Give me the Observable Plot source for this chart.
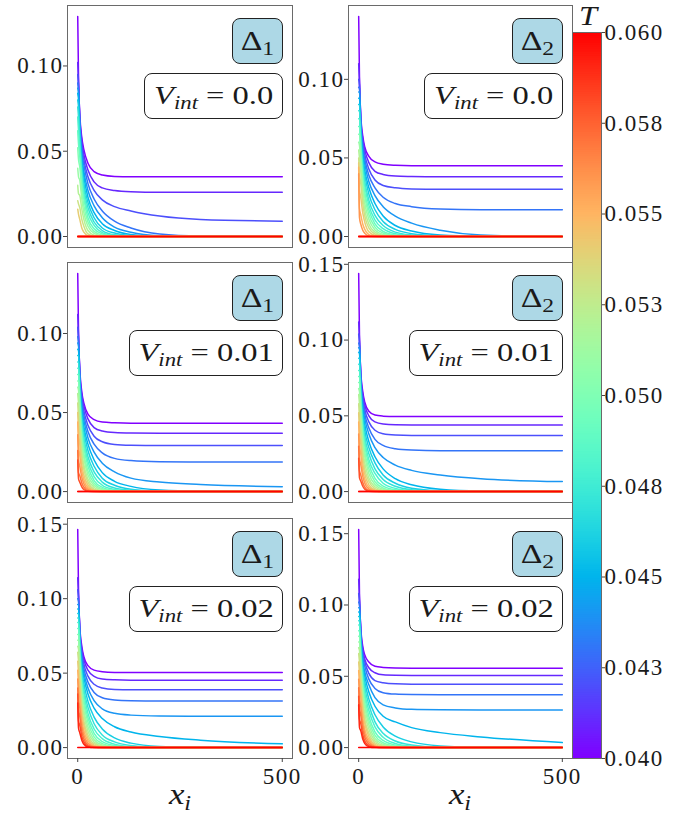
<!DOCTYPE html>
<html><head><meta charset="utf-8">
<script src="https://cdn.jsdelivr.net/npm/d3@7"></script>
<script src="https://cdn.jsdelivr.net/npm/@observablehq/plot@0.6"></script>
<style>
body{margin:0;background:#fff;}
#fig{position:relative;width:689px;height:819px;overflow:hidden;font-family:"Liberation Serif",serif;color:#1a1a1a;}
.box{position:absolute;border:1.3px solid #222;border-radius:8px;box-sizing:border-box;display:flex;align-items:center;justify-content:center;white-space:nowrap;background:#fff;}
.dbox{background:#add8e6;font-size:27px;}
.vbox{font-size:26px;}
.inner{display:inline-block;transform:scaleX(1.25);}
.it{font-style:italic;}
.sub{font-size:0.7em;position:relative;top:0.3em;}
.lbl{position:absolute;white-space:nowrap;transform:translateX(-50%) scaleX(1.2);line-height:1.15;}
</style>
</head><body>
<div id="fig"></div>
<script>
// ---- data ----
const xs = [0, 2, 5, 10, 15, 25, 40, 60, 90, 130, 200, 300, 500];
const temps = [0.040,0.041,0.042,0.043,0.044,0.045,0.046,0.047,0.048,0.049,0.050,0.051,0.052,0.053,0.054,0.055,0.056,0.057,0.058,0.059,0.060];
const yTickValues = [0, 0.05, 0.10, 0.15];
const xTickValues = [0, 500];
const cbTicks = [0.040, 0.0425, 0.045, 0.0475, 0.050, 0.0525, 0.055, 0.0575, 0.060];
const cbLabels = ["0.040","0.043","0.045","0.048","0.050","0.053","0.055","0.058","0.060"];
const deltaNames = ["1", "2"];
const vintLabels = ["0.0", "0.01", "0.02"];

// Δ1, V_int = 0.0
const delta1V0 = [
 [.129,.092,.072,.058,.051,.043,.038,.036,.0352,.035,.035,.035,.035],
 [.102,.090,.070,.056,.048,.039,.032,.0285,.027,.0263,.026,.026,.026],
 [.095,.088,.068,.053,.045,.035,.027,.0215,.0175,.015,.012,.010,.009],
 [.090,.086,.066,.050,.042,.031,.022,.015,.009,.005,.0015,.0003,0],
 [.087,.084,.064,.047,.038,.027,.018,.011,.0055,.0025,.0005,0,0],
 [.084,.080,.062,.044,.035,.023,.014,.0075,.0035,.0012,.0002,0,0],
 [.080,.076,.059,.041,.031,.020,.011,.005,.002,.0006,0,0,0],
 [.076,.070,.056,.038,.028,.017,.0085,.0035,.001,.0003,0,0,0],
 [.070,.062,.052,.035,.025,.014,.0065,.0023,.0006,.0001,0,0,0],
 [.062,.054,.047,.031,.022,.011,.0045,.0015,.0003,0,0,0,0],
 [.052,.045,.041,.027,.018,.0085,.003,.0008,.0001,0,0,0,0],
 [.040,.035,.033,.022,.014,.006,.0018,.0004,0,0,0,0,0],
 [.030,.025,.024,.016,.010,.0035,.0008,.0001,0,0,0,0,0],
 [.021,.019,.017,.010,.006,.0015,.0003,0,0,0,0,0,0],
 [.016,.013,.010,.005,.0025,.0005,0,0,0,0,0,0,0],
 [0,0,0,0,0,0,0,0,0,0,0,0,0],
 [0,0,0,0,0,0,0,0,0,0,0,0,0],
 [0,0,0,0,0,0,0,0,0,0,0,0,0],
 [0,0,0,0,0,0,0,0,0,0,0,0,0],
 [0,0,0,0,0,0,0,0,0,0,0,0,0],
 [0,0,0,0,0,0,0,0,0,0,0,0,0]
];
// Δ2, V_int = 0.0
const delta2V0 = [
 [.140,.100,.078,.064,.057,.051,.0475,.046,.0453,.045,.045,.045,.045],
 [.110,.098,.076,.062,.055,.047,.0415,.0395,.0385,.0382,.038,.038,.038],
 [.100,.096,.074,.060,.052,.043,.036,.0325,.031,.0303,.030,.030,.030],
 [.095,.094,.072,.057,.049,.039,.031,.025,.021,.019,.0175,.017,.017],
 [.092,.092,.070,.054,.046,.035,.026,.019,.013,.0085,.004,.001,0],
 [.088,.088,.068,.051,.042,.031,.021,.013,.007,.0035,.001,.0002,0],
 [.084,.084,.065,.048,.039,.027,.017,.0095,.0045,.0018,.0004,0,0],
 [.080,.080,.062,.045,.035,.023,.0135,.007,.0028,.001,.0001,0,0],
 [.075,.075,.059,.041,.032,.020,.0105,.005,.0017,.0005,0,0,0],
 [.070,.070,.056,.038,.028,.017,.008,.0033,.001,.0002,0,0,0],
 [.065,.065,.052,.034,.025,.014,.006,.0022,.0005,0,0,0,0],
 [.060,.058,.048,.030,.021,.011,.0042,.0013,.0002,0,0,0,0],
 [.055,.050,.042,.026,.017,.008,.0028,.0007,.0001,0,0,0,0],
 [.050,.040,.034,.021,.013,.0055,.0016,.0003,0,0,0,0,0],
 [.047,.030,.025,.015,.009,.003,.0007,.0001,0,0,0,0,0],
 [.044,.018,.014,.008,.0045,.0012,.0002,0,0,0,0,0,0],
 [.040,.012,.008,.004,.002,.0004,0,0,0,0,0,0,0],
 [0,0,0,0,0,0,0,0,0,0,0,0,0],
 [0,0,0,0,0,0,0,0,0,0,0,0,0],
 [0,0,0,0,0,0,0,0,0,0,0,0,0],
 [0,0,0,0,0,0,0,0,0,0,0,0,0]
];
// Δ1, V_int = 0.01
const delta1V1 = [
 [.138,.100,.078,.063,.056,.049,.0455,.044,.0435,.0432,.0432,.0432,.0432],
 [.112,.098,.076,.061,.054,.046,.0405,.0383,.0373,.037,.0369,.0369,.0369],
 [.104,.096,.074,.059,.051,.042,.035,.0315,.0298,.0293,.0291,.0291,.0291],
 [.098,.094,.072,.056,.048,.038,.030,.0245,.021,.0196,.0189,.0187,.0187],
 [.094,.092,.070,.053,.045,.034,.025,.018,.0125,.0085,.006,.0045,.0031],
 [.090,.089,.068,.050,.041,.030,.020,.012,.0065,.0033,.001,.0002,0],
 [.086,.086,.065,.047,.038,.026,.016,.0085,.004,.0015,.0003,0,0],
 [.082,.082,.062,.044,.034,.022,.0125,.006,.0023,.0008,.0001,0,0],
 [.078,.078,.059,.041,.031,.019,.0095,.004,.0014,.0004,0,0,0],
 [.074,.074,.056,.037,.028,.016,.007,.0027,.0008,.0002,0,0,0],
 [.070,.070,.053,.034,.024,.013,.0053,.0018,.0004,0,0,0,0],
 [.066,.064,.049,.030,.021,.0105,.0038,.0011,.0002,0,0,0,0],
 [.062,.056,.044,.026,.017,.008,.0026,.0006,.0001,0,0,0,0],
 [.056,.047,.037,.022,.014,.006,.0016,.0003,0,0,0,0,0],
 [.050,.038,.030,.017,.0105,.004,.0009,.0001,0,0,0,0,0],
 [.044,.029,.023,.013,.0075,.0025,.0005,0,0,0,0,0,0],
 [.036,.020,.016,.009,.005,.0014,.0002,0,0,0,0,0,0],
 [.026,.012,.010,.0055,.0028,.0006,0,0,0,0,0,0,0],
 [.020,.008,.006,.003,.0013,.0002,0,0,0,0,0,0,0],
 [0,0,0,0,0,0,0,0,0,0,0,0,0],
 [0,0,0,0,0,0,0,0,0,0,0,0,0]
];
// Δ2, V_int = 0.01
const delta2V1 = [
 [.144,.102,.080,.066,.059,.053,.0505,.0498,.0495,.0495,.0495,.0495,.0495],
 [.112,.100,.078,.064,.057,.050,.046,.0446,.0441,.044,.044,.044,.044],
 [.104,.098,.076,.062,.054,.046,.0405,.0382,.0373,.037,.037,.037,.037],
 [.098,.096,.074,.059,.051,.042,.0345,.0305,.0283,.0274,.027,.027,.027],
 [.095,.094,.072,.056,.048,.038,.029,.0225,.0175,.014,.011,.0085,.0066],
 [.092,.091,.070,.053,.044,.033,.023,.015,.0085,.0045,.0015,.0003,0],
 [.088,.088,.067,.050,.040,.029,.019,.011,.0055,.0022,.0005,0,0],
 [.084,.084,.064,.046,.036,.025,.015,.008,.0035,.0012,.0002,0,0],
 [.080,.080,.061,.043,.033,.021,.012,.0055,.0021,.0006,0,0,0],
 [.076,.076,.058,.040,.030,.018,.0088,.0036,.0012,.0003,0,0,0],
 [.072,.072,.055,.036,.026,.015,.0065,.0024,.0006,.0001,0,0,0],
 [.068,.066,.051,.032,.023,.012,.0047,.0015,.0003,0,0,0,0],
 [.064,.058,.046,.028,.019,.009,.0032,.0008,.0001,0,0,0,0],
 [.058,.049,.039,.024,.015,.0068,.002,.0004,0,0,0,0,0],
 [.052,.040,.032,.019,.0115,.0045,.0011,.0001,0,0,0,0,0],
 [.046,.031,.025,.014,.0082,.0028,.0006,0,0,0,0,0,0],
 [.038,.022,.018,.010,.0055,.0016,.0003,0,0,0,0,0,0],
 [.030,.014,.011,.006,.003,.0007,0,0,0,0,0,0,0],
 [.022,.009,.007,.0035,.0015,.0002,0,0,0,0,0,0,0],
 [0,0,0,0,0,0,0,0,0,0,0,0,0],
 [0,0,0,0,0,0,0,0,0,0,0,0,0]
];
// Δ1, V_int = 0.02
const delta1V2 = [
 [.1465,.104,.082,.068,.061,.055,.052,.051,.0505,.0504,.0504,.0504,.0504],
 [.114,.102,.080,.066,.059,.052,.0478,.046,.0455,.0453,.0453,.0453,.0453],
 [.106,.100,.078,.064,.056,.048,.0425,.040,.039,.0388,.0388,.0388,.0388],
 [.100,.098,.076,.061,.053,.044,.037,.0335,.032,.0315,.0313,.0313,.0313],
 [.096,.096,.074,.058,.050,.040,.0315,.026,.023,.0218,.0212,.021,.021],
 [.093,.093,.072,.055,.047,.036,.0265,.0195,.014,.0105,.0075,.005,.0025],
 [.090,.090,.070,.052,.043,.031,.0205,.0125,.0065,.003,.0008,.0001,0],
 [.087,.087,.067,.049,.039,.027,.016,.0085,.0038,.0014,.0002,0,0],
 [.084,.084,.064,.046,.036,.023,.0125,.006,.0023,.0007,.0001,0,0],
 [.080,.080,.061,.042,.032,.020,.0095,.004,.0014,.0003,0,0,0],
 [.076,.076,.058,.039,.029,.017,.0072,.0027,.0008,.0001,0,0,0],
 [.072,.072,.055,.035,.025,.014,.0053,.0017,.0004,0,0,0,0],
 [.068,.066,.051,.031,.022,.011,.0038,.001,.0002,0,0,0,0],
 [.064,.058,.046,.027,.018,.0085,.0026,.0006,.0001,0,0,0,0],
 [.058,.050,.040,.023,.015,.0063,.0017,.0003,0,0,0,0,0],
 [.052,.042,.034,.019,.0115,.0045,.001,.0001,0,0,0,0,0],
 [.046,.034,.027,.015,.0085,.003,.0006,0,0,0,0,0,0],
 [.040,.026,.021,.011,.006,.0018,.0003,0,0,0,0,0,0],
 [.036,.018,.015,.0075,.0038,.001,.0001,0,0,0,0,0,0],
 [.030,.013,.010,.005,.0022,.0004,0,0,0,0,0,0,0],
 [0,0,0,0,0,0,0,0,0,0,0,0,0]
];
// Δ2, V_int = 0.02
const delta2V2 = [
 [.153,.106,.085,.071,.065,.060,.057,.0562,.0558,.0557,.0557,.0557,.0557],
 [.118,.104,.083,.069,.062,.056,.0525,.051,.0507,.0506,.0506,.0506,.0506],
 [.108,.102,.081,.067,.060,.052,.047,.0455,.0447,.0445,.0445,.0445,.0445],
 [.102,.100,.079,.064,.057,.048,.0415,.0385,.0375,.0372,.0371,.0371,.0371],
 [.098,.098,.077,.061,.053,.044,.035,.030,.0278,.0268,.0265,.0264,.0264],
 [.095,.095,.075,.058,.050,.039,.029,.022,.018,.014,.0105,.0075,.0035],
 [.092,.092,.072,.055,.046,.034,.023,.0145,.008,.004,.0012,.0002,0],
 [.089,.089,.069,.052,.042,.030,.018,.010,.0046,.0018,.0003,0,0],
 [.086,.086,.066,.048,.038,.026,.0145,.0072,.0029,.0009,.0001,0,0],
 [.082,.082,.063,.045,.035,.022,.011,.005,.0018,.0005,0,0,0],
 [.078,.078,.060,.041,.031,.019,.0085,.0034,.0011,.0002,0,0,0],
 [.074,.074,.057,.038,.028,.016,.0065,.0023,.0006,.0001,0,0,0],
 [.070,.068,.053,.034,.024,.013,.0048,.0015,.0003,0,0,0,0],
 [.066,.060,.048,.030,.020,.010,.0034,.0009,.0002,0,0,0,0],
 [.060,.052,.042,.026,.017,.0078,.0023,.0005,.0001,0,0,0,0],
 [.054,.044,.036,.021,.013,.0057,.0014,.0002,0,0,0,0,0],
 [.048,.036,.029,.017,.010,.004,.0008,.0001,0,0,0,0,0],
 [.042,.028,.023,.013,.0072,.0025,.0004,0,0,0,0,0,0],
 [.036,.020,.017,.009,.0045,.0013,.0002,0,0,0,0,0,0],
 [.030,.014,.012,.006,.0028,.0006,0,0,0,0,0,0,0],
 [0,0,0,0,0,0,0,0,0,0,0,0,0]
];

// ---- matplotlib "rainbow" colormap ----
function mplRainbow(t) {
  const c = v => Math.round(255 * Math.max(0, Math.min(1, v)));
  return `rgb(${c(Math.abs(2 * t - 0.5))},${c(Math.sin(Math.PI * t))},${c(Math.cos(Math.PI * t / 2))})`;
}
const colorScale = {type: "linear", domain: [0.040, 0.060], interpolate: mplRainbow};
const baseStyle = {background: "transparent", fontFamily: "'Liberation Serif', serif", fontSize: "23px", letterSpacing: "1.5px", color: "#1a1a1a", overflow: "visible"};

const fig = document.getElementById("fig");

function drawPanel(curves, fr, bottom) {
  const rows = [];
  curves.forEach((c, i) => c.forEach((v, j) => rows.push({x: xs[j], y: v, T: temps[i]})));
  const ymax = d3.max(rows, d => d.y);
  const ml = fr.x0 - fr.left, mt = 14, mr = bottom ? 24 : 1, mb = bottom ? 36 : 1;
  const chart = Plot.plot({
    width: ml + (fr.x1 - fr.x0) + mr,
    height: mt + (fr.y1 - fr.y0) + mb,
    marginLeft: ml, marginRight: mr, marginTop: mt, marginBottom: mb,
    style: baseStyle,
    x: {domain: [-25, 525], axis: null},
    y: {domain: [-0.05 * ymax, 1.05 * ymax], axis: null},
    color: colorScale,
    marks: [
      Plot.line(rows, {x: "x", y: "y", z: "T", stroke: "T", strokeWidth: 1.5, curve: "monotone-x"}),
      Plot.frame({stroke: "#6a6a6a"}),
      Plot.axisY({ticks: yTickValues.filter(t => t <= 1.05 * ymax), tickFormat: d3.format(".2f"), tickSize: 4, tickPadding: 0, label: null, stroke: "#444"}),
      bottom ? Plot.axisX({ticks: xTickValues, tickFormat: d3.format("d"), tickSize: 4, tickPadding: 5, label: null, stroke: "#444"}) : null
    ]
  });
  chart.style.position = "absolute";
  chart.style.left = fr.left + "px";
  chart.style.top = (fr.y0 - mt) + "px";
  fig.append(chart);
}

function addBoxes(fr, di, vi) {
  const d = document.createElement("div");
  d.className = "box dbox";
  d.style.cssText = `left:${fr.x1 - 9 - 51}px;top:${fr.y0 + 13}px;width:51px;height:46px;`;
  d.innerHTML = `<span class="inner"><span>Δ</span><span class="sub">${deltaNames[di]}</span></span>`;
  fig.append(d);
  const w = vintLabels[vi].length > 3 ? 154 : 139;
  const v = document.createElement("div");
  v.className = "box vbox";
  v.style.cssText = `left:${fr.x1 - 9 - w}px;top:${fr.y0 + 68}px;width:${w}px;height:46px;`;
  v.innerHTML = `<span class="inner"><span class="it">V</span><span class="sub it">int</span><span> = ${vintLabels[vi]}</span></span>`;
  fig.append(v);
}

const colX = [{left: 0, x0: 67, x1: 292}, {left: 293, x0: 348, x1: 572}];
const rowY = [{y0: 5, y1: 247}, {y0: 262, y1: 502}, {y0: 518, y1: 758}];
const panels = [[delta1V0, delta2V0], [delta1V1, delta2V1], [delta1V2, delta2V2]];

panels.forEach((row, ri) => row.forEach((curves, ci) => {
  drawPanel(curves, {...colX[ci], ...rowY[ri]}, ri === 2);
}));
panels.forEach((row, ri) => row.forEach((curves, ci) => {
  addBoxes({...colX[ci], ...rowY[ri]}, ci, ri);
}));

// x-axis labels
colX.forEach(c => {
  const l = document.createElement("div");
  l.className = "lbl";
  l.style.cssText = `left:${(c.x0 + c.x1) / 2}px;top:778px;font-size:29px;`;
  l.innerHTML = `<span class="it">x</span><span class="sub it">i</span>`;
  fig.append(l);
});

// colorbar
const nSteps = 400;
const steps = d3.range(nSteps).map(i => 0.040 + (0.020 * i) / nSteps);
const stepH = 0.020 / nSteps;
const cb = Plot.plot({
  width: 1 + 29 + 88, height: 14 + 726 + 14,
  marginLeft: 1, marginRight: 88, marginTop: 14, marginBottom: 14,
  style: baseStyle,
  x: {domain: [0, 1], axis: null},
  y: {domain: [0.040, 0.060], axis: null},
  color: colorScale,
  marks: [
    Plot.rect(steps, {x1: () => 0, x2: () => 1, y1: d => d, y2: d => Math.min(0.060, d + 1.6 * stepH), fill: d => d + stepH / 2, inset: 0}),
    Plot.frame({stroke: "#6a6a6a"}),
    Plot.axisY({anchor: "right", ticks: cbTicks, tickFormat: d => cbLabels[cbTicks.findIndex(t => Math.abs(t - d) < 1e-9)], tickSize: 3, tickPadding: 0, label: null, stroke: "#444"})
  ]
});
cb.style.position = "absolute";
cb.style.left = "571px";
cb.style.top = "18px";
fig.append(cb);

const tl = document.createElement("div");
tl.className = "lbl it";
tl.style.cssText = "left:588px;top:1px;font-size:27px;";
tl.textContent = "T";
fig.append(tl);
</script>
</body></html>
